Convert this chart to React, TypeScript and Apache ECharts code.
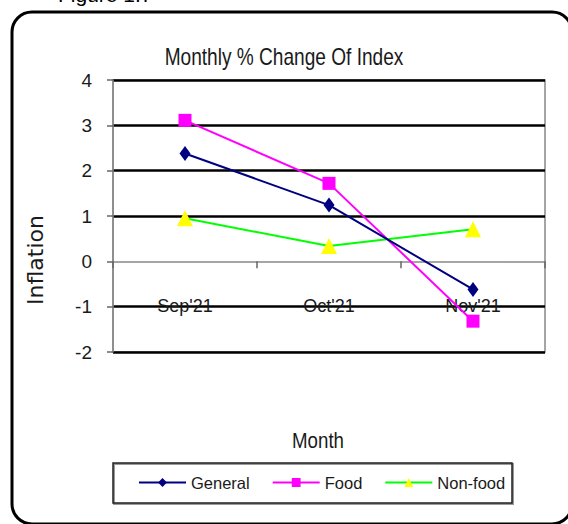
import React, { useEffect, useRef } from "react";
import * as echarts from "echarts";

const months = ["Sep'21", "Oct'21", "Nov'21"];
const generalValues = [2.38, 1.24, -0.62];
const foodValues = [3.11, 1.72, -1.32];
const nonFoodValues = [0.95, 0.34, 0.71];
const yTicks = { min: -2, max: 4, interval: 1 };

const FONT = "'Liberation Sans Narrow', 'Liberation Sans', Arial, sans-serif";

export default function App() {
  const ref = useRef<HTMLDivElement>(null);
  useEffect(() => {
    const chart = echarts.init(ref.current!, null, { renderer: "svg" });
    chart.setOption({
      animation: false,
      backgroundColor: "#fff",
      grid: { left: 113, right: 23, top: 80, bottom: 172, show: true, borderColor: "#888", borderWidth: 1.5 },
      legend: {
        left: 138,
        top: 474,
        itemWidth: 47,
        itemHeight: 11,
        itemGap: 22,
        padding: 0,
        textStyle: { fontFamily: FONT, fontSize: 16.5, color: "#1a1a1a" },
        data: ["General", "Food", "Non-food"],
      },
      xAxis: {
        type: "category",
        data: months,
        boundaryGap: true,
        axisLine: { onZero: true, lineStyle: { color: "#888", width: 1.5 } },
        axisTick: { show: true, length: 7, lineStyle: { color: "#666", width: 1.5 } },
        axisLabel: { margin: -55, fontFamily: FONT, fontSize: 18, color: "#1a1a1a" },
        splitLine: { show: false },
      },
      yAxis: {
        type: "value",
        min: yTicks.min,
        max: yTicks.max,
        interval: yTicks.interval,
        axisLine: { show: true, lineStyle: { color: "#888", width: 1.5 } },
        axisTick: { show: true, length: 6, lineStyle: { color: "#666", width: 1.5 } },
        axisLabel: { margin: 21, fontFamily: FONT, fontSize: 19, color: "#1a1a1a" },
        splitLine: {
          show: true,
          lineStyle: {
            color: ["#000", "#000", "rgba(0,0,0,0)", "#000", "#000", "#000", "#000"],
            width: 2.5,
          },
        },
      },
      series: [
        {
          name: "General",
          type: "line",
          data: generalValues,
          symbol: "diamond",
          symbolSize: [11, 15],
          lineStyle: { color: "#000080", width: 2 },
          itemStyle: { color: "#000080" },
          z: 3,
        },
        {
          name: "Food",
          type: "line",
          data: foodValues,
          symbol: "rect",
          symbolSize: 13,
          lineStyle: { color: "#FF00FF", width: 2 },
          itemStyle: { color: "#FF00FF" },
          z: 2,
        },
        {
          name: "Non-food",
          type: "line",
          data: nonFoodValues,
          symbol: "triangle",
          symbolSize: [16, 16],
          lineStyle: { color: "#00FF00", width: 2 },
          itemStyle: { color: "#FFFF00" },
          z: 1,
        },
      ],
      graphic: [
        {
          type: "rect",
          shape: { x: 12, y: 12, width: 560, height: 512, r: 20 },
          style: { fill: "none", stroke: "#000", lineWidth: 3 },
          z: 0,
          silent: true,
        },
        {
          type: "text",
          x: 58,
          y: -16,
          style: { text: "Figure 1.7", fontFamily: "'Liberation Sans', Arial", fontSize: 21, fill: "#000", textVerticalAlign: "top" },
        },
        {
          type: "text",
          x: 284,
          y: 57,
          scaleX: 0.83,
          style: {
            text: "Monthly % Change Of Index",
            fontFamily: FONT,
            fontSize: 23,
            fill: "#1a1a1a",
            textAlign: "center",
            textVerticalAlign: "middle",
          },
        },
        {
          type: "text",
          x: 35,
          y: 260,
          rotation: Math.PI / 2,
          style: {
            text: "Inflation",
            fontFamily: "'DejaVu Sans', sans-serif",
            fontSize: 22,
            fill: "#1a1a1a",
            textAlign: "center",
            textVerticalAlign: "middle",
          },
        },
        {
          type: "text",
          x: 318,
          y: 440,
          scaleX: 0.85,
          style: {
            text: "Month",
            fontFamily: FONT,
            fontSize: 22,
            fill: "#1a1a1a",
            textAlign: "center",
            textVerticalAlign: "middle",
          },
        },
        {
          type: "rect",
          shape: { x: 114, y: 464, width: 399, height: 40 },
          style: { fill: "none", stroke: "#999", lineWidth: 2 },
          silent: true,
        },
        {
          type: "rect",
          shape: { x: 113, y: 463, width: 399, height: 40 },
          style: { fill: "none", stroke: "#222", lineWidth: 1.5 },
          silent: true,
        },
      ],
    });
    return () => chart.dispose();
  }, []);
  return (
    <div
      ref={ref}
      style={{ position: "absolute", left: 0, top: 0, width: 568, height: 524 }}
    />
  );
}
